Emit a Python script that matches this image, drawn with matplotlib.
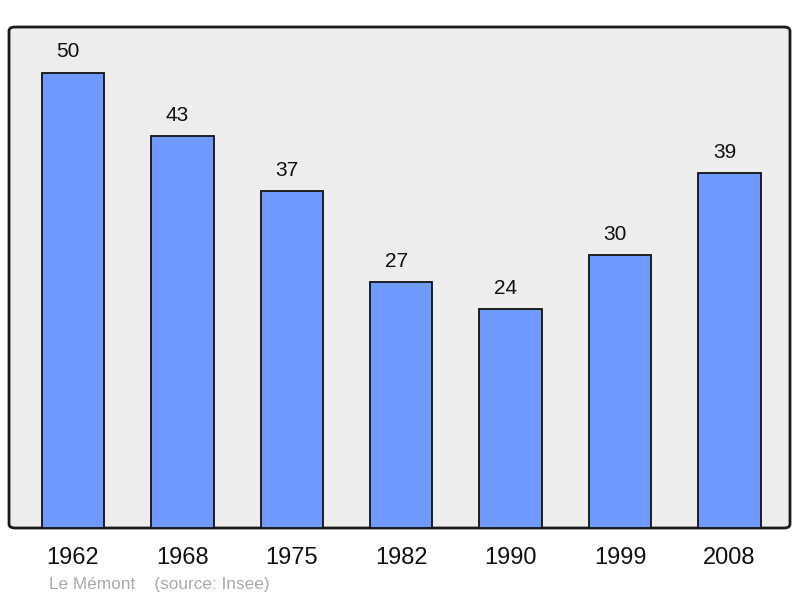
import matplotlib.pyplot as plt
from matplotlib.patches import FancyBboxPatch

years = ['1962', '1968', '1975', '1982', '1990', '1999', '2008']
population = [50, 43, 37, 27, 24, 30, 39]

plt.rcParams['font.family'] = ['Liberation Sans', 'DejaVu Sans']

fig = plt.figure(figsize=(8, 5.98), dpi=100)
ax = fig.add_axes([9 / 800, 70 / 598, 781 / 800, 501 / 598])
ax.set_facecolor('none')

# rounded grey frame behind the bars
frame = FancyBboxPatch((0, 0), 1, 1,
                       boxstyle='round,pad=0,rounding_size=0.008',
                       transform=ax.transAxes, facecolor='#ededed',
                       edgecolor='#1a1a1a', linewidth=2, zorder=0,
                       clip_on=False)
ax.add_patch(frame)

x = range(len(years))
ax.bar(x, population, width=0.57, color='#7099ff', edgecolor='#111111',
       linewidth=1.3, zorder=2)

for i, v in enumerate(population):
    ax.annotate(str(v), (i, v), xytext=(-3.5, 8), textcoords='offset points',
                ha='center', va='bottom', fontsize=15, color='#111111')

ax.set_xlim(-0.585, 6.553)
ax.set_ylim(0, 55)
ax.set_xticks(list(x))
ax.set_xticklabels(years, fontsize=17, color='#111111')
ax.tick_params(axis='x', length=0, pad=14)
ax.set_yticks([])
for s in ax.spines.values():
    s.set_visible(False)

fig.text(49 / 800, 1 - 584 / 598, 'Le Mémont    (source: Insee)',
         fontsize=12.4, color='#aaaaaa', ha='left', va='center')

fig.savefig('out.png', dpi=100)
